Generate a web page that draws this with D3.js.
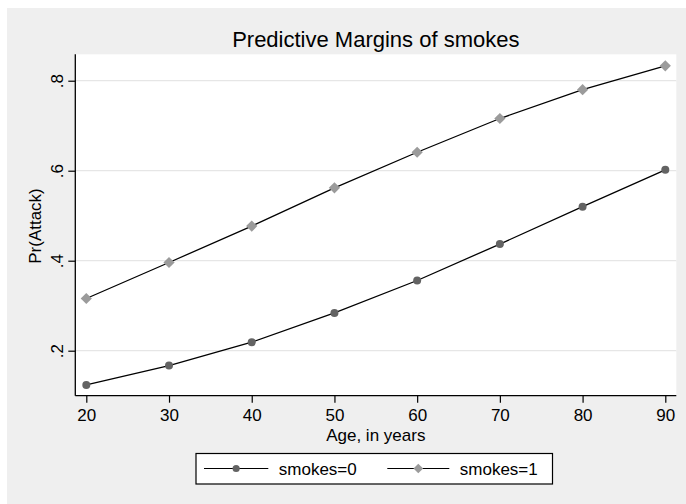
<!DOCTYPE html>
<html>
<head>
<meta charset="utf-8">
<script src="https://cdn.jsdelivr.net/npm/d3@7"></script>
<style>
  body { margin: 0; background: #fff; }
  text { font-family: "Liberation Sans", Arial, sans-serif; fill: #000; }
</style>
</head>
<body>
<div id="chart"></div>
<script>
// predictive margins — two series, age on x
const ages = [20, 30, 40, 50, 60, 70, 80, 90];
const smokes0 = [0.124, 0.167, 0.219, 0.284, 0.356, 0.437, 0.520, 0.602];
const smokes1 = [0.316, 0.396, 0.477, 0.562, 0.641, 0.716, 0.780, 0.833];
const yTicks = [0.2, 0.4, 0.6, 0.8];
const xTicks = [20, 30, 40, 50, 60, 70, 80, 90];

const W = 686, H = 504;
const L = 75.3, R = 676.3, T = 54.3, B = 395.7;

const svg = d3.select('#chart').append('svg')
  .attr('width', W).attr('height', H);

svg.append('rect').attr('x', 7).attr('y', 8)
  .attr('width', W - 7).attr('height', H - 8).attr('fill', '#efefef');
svg.append('rect').attr('x', L).attr('y', T)
  .attr('width', R - L).attr('height', B - T).attr('fill', '#fff');

const x = d3.scaleLinear().domain([18.67, 91.33]).range([L, R]);
const y = d3.scaleLinear().domain([0.1, 0.8587]).range([B, T]);

// grid
svg.append('g').selectAll('line').data(yTicks).join('line')
  .attr('x1', L).attr('x2', R)
  .attr('y1', d => y(d)).attr('y2', d => y(d))
  .attr('stroke', '#e6e6e6').attr('stroke-width', 1.2);

// axes
const fmt = d => d3.format('.1f')(d).replace(/^0/, '');
const yAxis = svg.append('g').attr('transform', `translate(${L},0)`)
  .call(d3.axisLeft(y).tickValues(yTicks).tickSize(7).tickFormat(fmt).tickPadding(4));
yAxis.select('.domain').attr('d', `M0,${T}V${B}`).attr('stroke-width', 1.3);
yAxis.selectAll('.tick line').attr('stroke-width', 1.2);
yAxis.selectAll('.tick text')
  .attr('font-size', 17).attr('font-family', '"Liberation Sans", Arial, sans-serif')
  .attr('transform', 'rotate(-90)').attr('text-anchor', 'middle')
  .attr('x', 0).attr('y', -12).attr('dy', 0).attr('fill', '#000');

const xAxis = svg.append('g').attr('transform', `translate(0,${B})`)
  .call(d3.axisBottom(x).tickValues(xTicks).tickSize(7).tickPadding(6));
xAxis.select('.domain').attr('d', `M${L},0H${R}`).attr('stroke-width', 1.3);
xAxis.selectAll('.tick line').attr('stroke-width', 1.2);
xAxis.selectAll('.tick text')
  .attr('font-size', 17).attr('font-family', '"Liberation Sans", Arial, sans-serif')
  .attr('fill', '#000');

// titles (centred on the plot region)
svg.append('text').attr('x', (L + R) / 2).attr('y', 47).attr('text-anchor', 'middle')
  .attr('font-size', 22).text('Predictive Margins of smokes');
svg.append('text').attr('x', (L + R) / 2).attr('y', 441).attr('text-anchor', 'middle')
  .attr('font-size', 17).text('Age, in years');
svg.append('text').attr('transform', `translate(41,226) rotate(-90)`)
  .attr('text-anchor', 'middle').attr('font-size', 17).text('Pr(Attack)');

// series
const line = d3.line().x(d => x(d[0])).y(d => y(d[1]));
const s0 = ages.map((a, i) => [a, smokes0[i]]);
const s1 = ages.map((a, i) => [a, smokes1[i]]);
const diamond = d3.symbol().type(d3.symbolDiamond2).size(80);

[s0, s1].forEach(s => {
  svg.append('path').datum(s).attr('d', line)
    .attr('fill', 'none').attr('stroke', '#000').attr('stroke-width', 1.3);
});
svg.append('g').selectAll('circle').data(s0).join('circle')
  .attr('cx', d => x(d[0])).attr('cy', d => y(d[1])).attr('r', 4)
  .attr('fill', '#636363');
svg.append('g').selectAll('path').data(s1).join('path')
  .attr('transform', d => `translate(${x(d[0])},${y(d[1])})`)
  .attr('d', diamond).attr('fill', '#9b9b9b');

// legend
const lg = svg.append('g');
lg.append('rect').attr('x', 196).attr('y', 453.5).attr('width', 356.5).attr('height', 30.5)
  .attr('fill', '#fff').attr('stroke', '#000').attr('stroke-width', 1.2);
const items = [
  { label: 'smokes=0', x0: 204, x1: 268.3 },
  { label: 'smokes=1', x0: 387.3, x1: 449.3 }
];
items.forEach((it, i) => {
  const cy = 468.5;
  lg.append('line').attr('x1', it.x0).attr('x2', it.x1).attr('y1', cy).attr('y2', cy)
    .attr('stroke', '#000').attr('stroke-width', 1.2);
  const mx = (it.x0 + it.x1) / 2;
  if (i === 0) lg.append('circle').attr('cx', mx).attr('cy', cy).attr('r', 3.6).attr('fill', '#636363');
  else lg.append('path').attr('transform', `translate(${mx},${cy})`)
    .attr('d', d3.symbol().type(d3.symbolDiamond2).size(60)).attr('fill', '#9b9b9b');
  lg.append('text').attr('x', it.x1 + 10.5).attr('y', cy + 6).attr('font-size', 17).text(it.label);
});
</script>
</body>
</html>
